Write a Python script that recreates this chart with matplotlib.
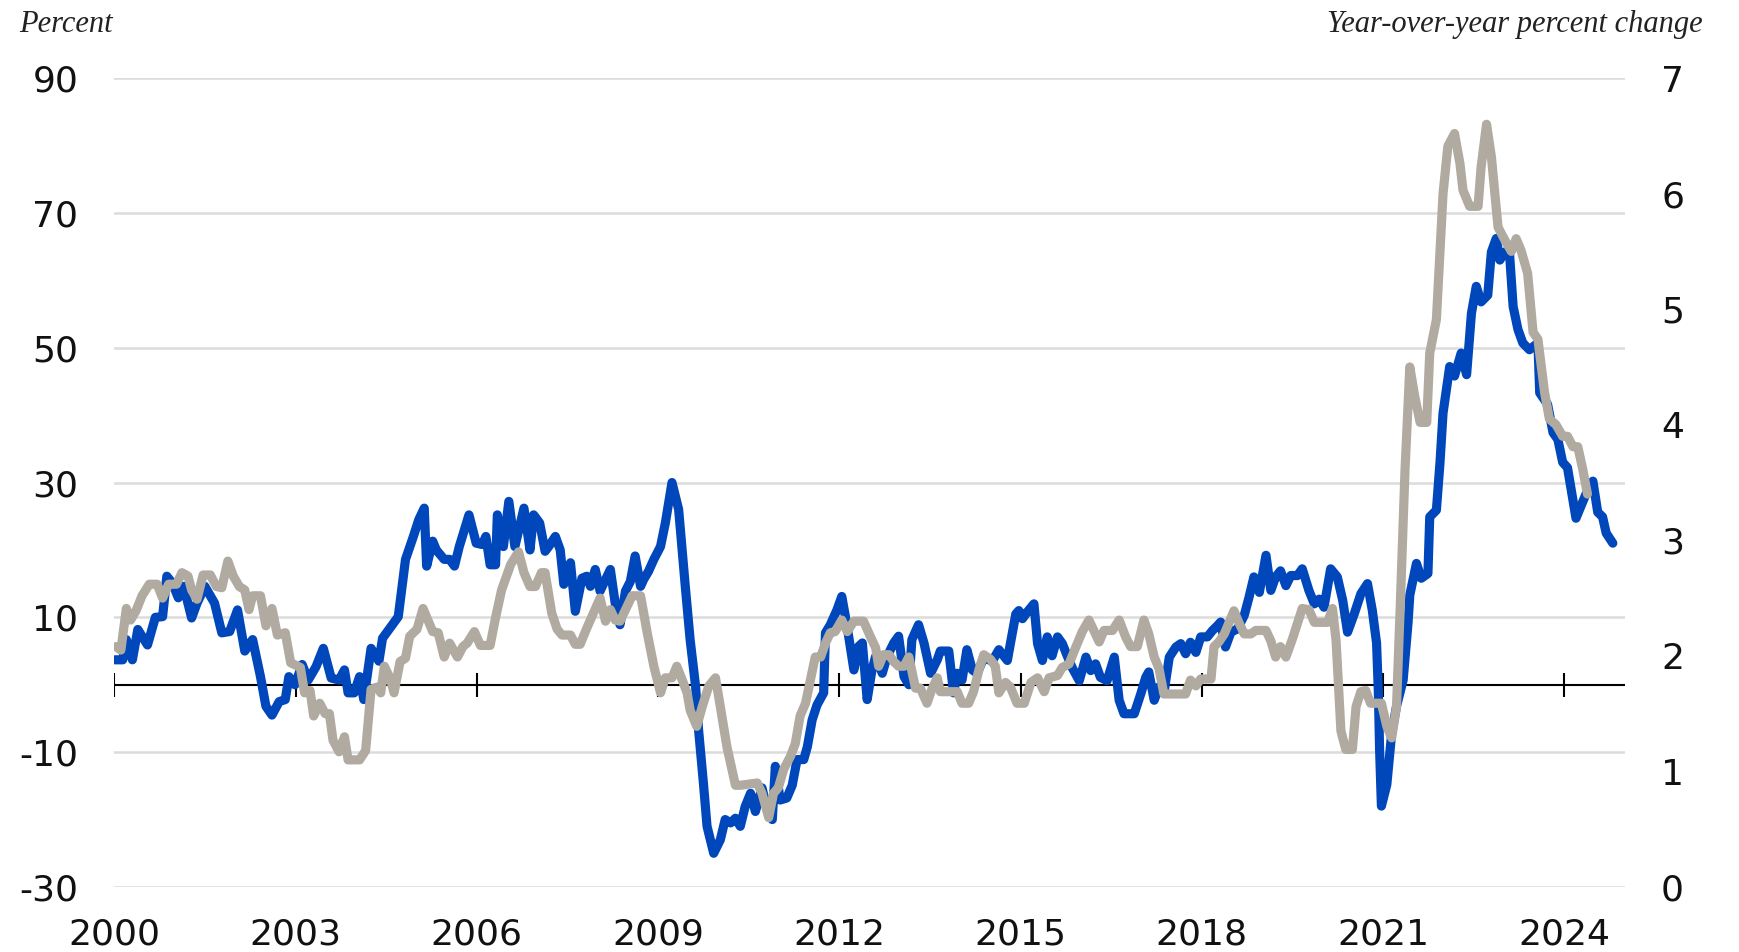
import matplotlib.pyplot as plt

plt.rcParams['axes.unicode_minus'] = False

# Left axis series (percent), positions in decimal years
blue_years = [
    2000.01, 2000.14, 2000.20, 2000.30, 2000.39, 2000.55, 2000.68, 2000.80, 2000.87, 2000.96,
    2001.06, 2001.15, 2001.28, 2001.37, 2001.50, 2001.66, 2001.78, 2001.91, 2002.04, 2002.16,
    2002.29, 2002.42, 2002.51, 2002.61, 2002.73, 2002.83, 2002.89, 2002.99, 2003.11, 2003.21,
    2003.34, 2003.46, 2003.59, 2003.72, 2003.81, 2003.87, 2003.97, 2004.06, 2004.13, 2004.25,
    2004.38, 2004.44, 2004.70, 2004.82, 2004.95, 2005.04, 2005.13, 2005.17, 2005.27, 2005.33,
    2005.46, 2005.55, 2005.63, 2005.71, 2005.87, 2005.99, 2006.09, 2006.15, 2006.22, 2006.31,
    2006.34, 2006.44, 2006.53, 2006.63, 2006.78, 2006.88, 2006.94, 2007.04, 2007.13, 2007.19,
    2007.30, 2007.38, 2007.44, 2007.55, 2007.63, 2007.74, 2007.82, 2007.88, 2007.96, 2008.04,
    2008.13, 2008.21, 2008.29, 2008.37, 2008.46, 2008.54, 2008.62, 2008.71, 2008.76, 2008.84,
    2008.93, 2009.04, 2009.12, 2009.23, 2009.34, 2009.45, 2009.53, 2009.62, 2009.67, 2009.75,
    2009.81, 2009.92, 2010.03, 2010.11, 2010.20, 2010.28, 2010.36, 2010.44, 2010.53, 2010.61,
    2010.72, 2010.80, 2010.89, 2010.94, 2011.02, 2011.13, 2011.22, 2011.30, 2011.41, 2011.47,
    2011.55, 2011.63, 2011.74, 2011.77, 2011.85, 2011.96, 2012.04, 2012.10, 2012.15, 2012.24,
    2012.32, 2012.38, 2012.46, 2012.54, 2012.60, 2012.71, 2012.79, 2012.90, 2012.98, 2013.07,
    2013.15, 2013.20, 2013.31, 2013.40, 2013.51, 2013.62, 2013.67, 2013.81, 2013.89, 2013.95,
    2014.03, 2014.11, 2014.20, 2014.28, 2014.39, 2014.53, 2014.64, 2014.78, 2014.83, 2014.92,
    2014.97, 2015.03, 2015.11, 2015.22, 2015.28, 2015.36, 2015.44, 2015.52, 2015.61, 2015.69,
    2015.77, 2015.86, 2015.97, 2016.08, 2016.16, 2016.24, 2016.32, 2016.43, 2016.55, 2016.63,
    2016.71, 2016.88, 2016.99, 2017.07, 2017.12, 2017.21, 2017.29, 2017.37, 2017.46, 2017.57,
    2017.65, 2017.73, 2017.81, 2017.90, 2017.98, 2018.09, 2018.17, 2018.26, 2018.31, 2018.39,
    2018.48, 2018.59, 2018.70, 2018.78, 2018.86, 2018.95, 2019.06, 2019.14, 2019.22, 2019.30,
    2019.39, 2019.47, 2019.58, 2019.66, 2019.77, 2019.86, 2019.94, 2020.02, 2020.13, 2020.24,
    2020.33, 2020.41, 2020.52, 2020.63, 2020.74, 2020.82, 2020.89, 2020.92, 2020.94, 2020.97,
    2021.06, 2021.11, 2021.14, 2021.22, 2021.33, 2021.41, 2021.44, 2021.55, 2021.63, 2021.74,
    2021.77, 2021.88, 2021.94, 2021.99, 2022.10, 2022.18, 2022.29, 2022.38, 2022.46, 2022.54,
    2022.62, 2022.73, 2022.79, 2022.87, 2022.93, 2023.01, 2023.09, 2023.15, 2023.23, 2023.31,
    2023.42, 2023.56, 2023.59, 2023.72, 2023.81, 2023.89, 2023.97, 2024.05, 2024.19, 2024.36,
    2024.47, 2024.55, 2024.63, 2024.69, 2024.80,
]
blue_vals = [
    3.7, 3.7, 6.7, 3.7, 8.2, 5.9, 10.0, 10.1, 16.1, 15.1,
    12.9, 14.6, 9.9, 12.1, 14.6, 12.1, 7.7, 7.9, 11.1, 5.0,
    6.7, 1.2, -3.2, -4.5, -2.5, -2.2, 1.2, 0.0, 3.0, 0.7,
    2.7, 5.4, 1.0, 0.7, 2.2, -1.2, -1.2, 1.2, -2.2, 5.4,
    3.5, 6.9, 10.1, 18.6, 22.0, 24.5, 26.2, 17.6, 21.3, 20.0,
    18.6, 18.6, 17.6, 20.5, 25.2, 21.0, 20.8, 22.0, 17.8, 17.8,
    25.2, 20.5, 27.2, 20.5, 26.2, 20.0, 25.2, 24.0, 19.8, 20.5,
    22.0, 20.0, 14.9, 18.1, 10.9, 15.8, 16.1, 14.6, 17.1, 13.9,
    15.6, 17.1, 12.1, 8.9, 13.9, 15.3, 19.1, 14.6, 15.6, 16.8,
    18.6, 20.5, 24.0, 30.0, 26.0, 14.6, 6.7, -0.2, -6.7, -14.6,
    -21.0, -25.0, -23.0, -20.0, -20.5, -19.8, -21.0, -18.1, -16.1, -18.8,
    -15.3, -18.3, -20.0, -12.1, -17.1, -16.8, -14.9, -11.1, -11.1, -9.2,
    -5.2, -3.0, -1.2, 7.7, 8.9, 11.1, 13.1, 10.1, 7.4, 2.2,
    5.7, 6.2, -2.2, 2.2, 4.2, 1.7, 4.2, 6.2, 7.2, 1.2,
    0.0, 6.7, 8.9, 6.2, 1.7, 3.7, 5.0, 5.0, -1.2, 1.7,
    0.7, 5.2, 2.2, 1.7, 4.0, 3.5, 5.2, 3.6, 6.1, 10.5,
    11.0, 9.8, 10.8, 12.0, 6.1, 3.6, 7.1, 4.3, 7.1, 6.1,
    4.3, 2.4, 0.6, 4.1, 2.1, 3.1, 1.1, 0.6, 4.1, -2.3,
    -4.3, -4.3, -1.3, 1.1, 1.9, -2.3, -0.3, -1.3, 4.1, 5.6,
    6.1, 4.6, 6.3, 4.8, 7.1, 7.1, 8.0, 8.8, 9.3, 5.6,
    7.8, 8.3, 10.3, 13.0, 16.0, 13.7, 19.2, 14.0, 16.0, 16.9,
    14.7, 16.2, 16.2, 17.2, 14.0, 12.0, 12.7, 11.5, 17.2, 16.0,
    12.5, 7.8, 10.5, 13.5, 15.0, 11.0, 6.2, -1.2, -9.6, -18.0,
    -14.8, -10.1, -7.2, -3.2, 0.7, 9.1, 13.3, 18.0, 15.8, 16.5,
    24.9, 25.9, 33.0, 40.3, 47.2, 45.8, 49.2, 46.0, 55.1, 59.1,
    56.8, 57.8, 64.2, 66.2, 63.0, 64.2, 64.0, 56.1, 52.7, 50.7,
    49.7, 50.7, 43.3, 41.6, 37.4, 36.4, 33.0, 32.2, 24.7, 28.4,
    30.2, 25.6, 24.9, 22.5, 21.0,
]

# Right axis series (year-over-year percent change)
gray_years = [
    2000.03, 2000.11, 2000.20, 2000.27, 2000.36, 2000.46, 2000.58, 2000.71, 2000.80, 2000.90,
    2001.03, 2001.12, 2001.22, 2001.28, 2001.37, 2001.47, 2001.59, 2001.69, 2001.78, 2001.88,
    2001.97, 2002.07, 2002.16, 2002.23, 2002.29, 2002.42, 2002.51, 2002.61, 2002.70, 2002.83,
    2002.92, 2003.08, 2003.15, 2003.24, 2003.30, 2003.40, 2003.49, 2003.56, 2003.62, 2003.72,
    2003.81, 2003.87, 2004.06, 2004.16, 2004.25, 2004.35, 2004.41, 2004.47, 2004.57, 2004.63,
    2004.73, 2004.82, 2004.89, 2005.01, 2005.11, 2005.27, 2005.36, 2005.46, 2005.55, 2005.68,
    2005.77, 2005.84, 2005.96, 2006.06, 2006.22, 2006.31, 2006.41, 2006.56, 2006.69, 2006.78,
    2006.88, 2006.97, 2007.07, 2007.13, 2007.24, 2007.33, 2007.41, 2007.55, 2007.63, 2007.71,
    2007.82, 2007.93, 2008.04, 2008.13, 2008.21, 2008.29, 2008.37, 2008.46, 2008.57, 2008.71,
    2008.82, 2008.93, 2009.04, 2009.12, 2009.23, 2009.31, 2009.40, 2009.48, 2009.53, 2009.64,
    2009.73, 2009.84, 2009.95, 2010.03, 2010.14, 2010.28, 2010.36, 2010.64, 2010.72, 2010.83,
    2010.91, 2010.99, 2011.08, 2011.19, 2011.27, 2011.35, 2011.44, 2011.52, 2011.60, 2011.69,
    2011.77, 2011.85, 2011.93, 2012.04, 2012.13, 2012.24, 2012.40, 2012.51, 2012.60, 2012.65,
    2012.73, 2012.82, 2012.90, 2012.98, 2013.07, 2013.15, 2013.26, 2013.34, 2013.45, 2013.53,
    2013.62, 2013.67, 2013.78, 2013.95, 2014.03, 2014.14, 2014.22, 2014.31, 2014.39, 2014.50,
    2014.58, 2014.64, 2014.75, 2014.83, 2014.94, 2015.06, 2015.17, 2015.28, 2015.39, 2015.47,
    2015.61, 2015.69, 2015.80, 2015.94, 2016.02, 2016.13, 2016.21, 2016.30, 2016.38, 2016.52,
    2016.63, 2016.74, 2016.82, 2016.93, 2017.04, 2017.12, 2017.21, 2017.29, 2017.37, 2017.51,
    2017.73, 2017.81, 2017.90, 2017.98, 2018.15, 2018.20, 2018.28, 2018.37, 2018.45, 2018.53,
    2018.61, 2018.70, 2018.81, 2018.89, 2019.06, 2019.14, 2019.22, 2019.30, 2019.39, 2019.50,
    2019.58, 2019.66, 2019.77, 2019.86, 2020.08, 2020.16, 2020.22, 2020.30, 2020.38, 2020.49,
    2020.55, 2020.63, 2020.71, 2020.79, 2020.97, 2021.06, 2021.14, 2021.22, 2021.28, 2021.36,
    2021.44, 2021.52, 2021.61, 2021.72, 2021.77, 2021.88, 2021.94, 2021.99, 2022.07, 2022.18,
    2022.27, 2022.32, 2022.43, 2022.57, 2022.62, 2022.71, 2022.79, 2022.90, 2023.01, 2023.12,
    2023.20, 2023.28, 2023.39, 2023.48, 2023.56, 2023.67, 2023.75, 2023.86, 2023.97, 2024.05,
    2024.14, 2024.22, 2024.30, 2024.38,
]
gray_vals = [
    2.08, 2.05, 2.41, 2.31, 2.39, 2.52, 2.62, 2.62, 2.50, 2.62,
    2.62, 2.72, 2.69, 2.57, 2.49, 2.70, 2.70, 2.60, 2.59, 2.82,
    2.69, 2.60, 2.57, 2.40, 2.52, 2.52, 2.26, 2.41, 2.18, 2.20,
    1.94, 1.90, 1.68, 1.70, 1.48, 1.59, 1.50, 1.50, 1.27, 1.17,
    1.30, 1.10, 1.10, 1.18, 1.71, 1.73, 1.68, 1.91, 1.80, 1.68,
    1.95, 1.98, 2.17, 2.23, 2.41, 2.21, 2.20, 1.99, 2.11, 1.99,
    2.08, 2.11, 2.21, 2.09, 2.09, 2.33, 2.57, 2.79, 2.90, 2.72,
    2.60, 2.60, 2.72, 2.72, 2.37, 2.23, 2.18, 2.18, 2.10, 2.10,
    2.24, 2.37, 2.50, 2.30, 2.40, 2.31, 2.30, 2.40, 2.52, 2.52,
    2.20, 1.91, 1.68, 1.81, 1.81, 1.91, 1.79, 1.68, 1.53, 1.39,
    1.56, 1.74, 1.81, 1.56, 1.21, 0.88, 0.88, 0.90, 0.81, 0.60,
    0.81, 0.86, 1.02, 1.13, 1.24, 1.48, 1.59, 1.79, 1.99, 1.99,
    2.11, 2.20, 2.21, 2.31, 2.21, 2.30, 2.30, 2.17, 2.07, 1.91,
    2.01, 2.01, 1.95, 1.91, 1.91, 1.99, 1.72, 1.72, 1.59, 1.71,
    1.81, 1.69, 1.69, 1.69, 1.59, 1.59, 1.69, 1.88, 2.01, 1.97,
    1.91, 1.68, 1.77, 1.73, 1.59, 1.59, 1.77, 1.81, 1.69, 1.81,
    1.83, 1.90, 1.93, 2.11, 2.21, 2.31, 2.22, 2.12, 2.22, 2.22,
    2.31, 2.16, 2.08, 2.08, 2.31, 2.19, 1.99, 1.89, 1.67, 1.67,
    1.67, 1.79, 1.74, 1.80, 1.80, 2.08, 2.12, 2.19, 2.29, 2.39,
    2.29, 2.19, 2.19, 2.22, 2.22, 2.13, 1.99, 2.08, 1.99, 2.15,
    2.28, 2.41, 2.40, 2.29, 2.29, 2.41, 2.13, 1.35, 1.19, 1.19,
    1.56, 1.69, 1.70, 1.59, 1.59, 1.39, 1.29, 1.56, 2.40, 3.60,
    4.50, 4.25, 4.02, 4.02, 4.62, 4.91, 5.51, 6.00, 6.41, 6.52,
    6.26, 6.03, 5.89, 5.89, 6.23, 6.60, 6.32, 5.71, 5.60, 5.50,
    5.61, 5.51, 5.31, 4.80, 4.74, 4.28, 4.05, 4.00, 3.90, 3.90,
    3.81, 3.81, 3.62, 3.40,
]

tick_years = list(range(2000, 2025, 3))
left_ticks = list(range(-30, 91, 20))
right_ticks = list(range(0, 8))

BLUE = '#0047BB'
GRAY = '#B0AAA1'
TEXT = '#111111'
TICK_FONT = ['DejaVu Sans']

fig = plt.figure(figsize=(17.39, 9.52), dpi=100)
ax = fig.add_axes([0.0657, 0.0683, 0.8687, 0.8497])
ax2 = ax.twinx()

ax.set_xlim(2000, 2025)
ax.set_ylim(-30, 90)
ax2.set_ylim(0, 7)

# gridlines from the left scale, zero line with year ticks
ax.set_yticks(left_ticks)
ax.yaxis.grid(True, color='#dcdcdc', lw=1.8)
ax.set_axisbelow(True)
ax.axhline(0, color='black', lw=1.5, zorder=2)
ax.vlines(tick_years, -1.8, 1.8, color='black', lw=1.5, zorder=2)

ax.plot(blue_years, blue_vals, color=BLUE, lw=6.6, solid_joinstyle='round',
        solid_capstyle='round', zorder=3)
ax2.plot(gray_years, gray_vals, color=GRAY, lw=6.6, solid_joinstyle='round',
         solid_capstyle='round', zorder=3)

ax.set_xticks(tick_years)
ax.set_xticklabels([str(y) for y in tick_years])
ax2.set_yticks(right_ticks)

for a in (ax, ax2):
    for s in a.spines.values():
        s.set_visible(False)

ax.tick_params(axis='x', length=0, pad=22, labelsize=26, labelcolor=TEXT)
ax.tick_params(axis='y', length=0, pad=26, labelsize=26, labelcolor=TEXT)
ax2.tick_params(axis='y', length=0, pad=26, labelsize=26, labelcolor=TEXT)
for lab in ax.get_xticklabels() + ax.get_yticklabels() + ax2.get_yticklabels():
    lab.set_fontfamily(TICK_FONT)

fig.text(0.011, 1 - 32 / 952, 'Percent', fontsize=22, fontstyle='italic',
         family='Liberation Serif', color='#222222', va='baseline', ha='left')
fig.text(0.9793, 1 - 32 / 952, 'Year-over-year percent change', fontsize=22,
         fontstyle='italic', family='Liberation Serif', color='#222222',
         va='baseline', ha='right')

fig.savefig('out.png', dpi=100)
